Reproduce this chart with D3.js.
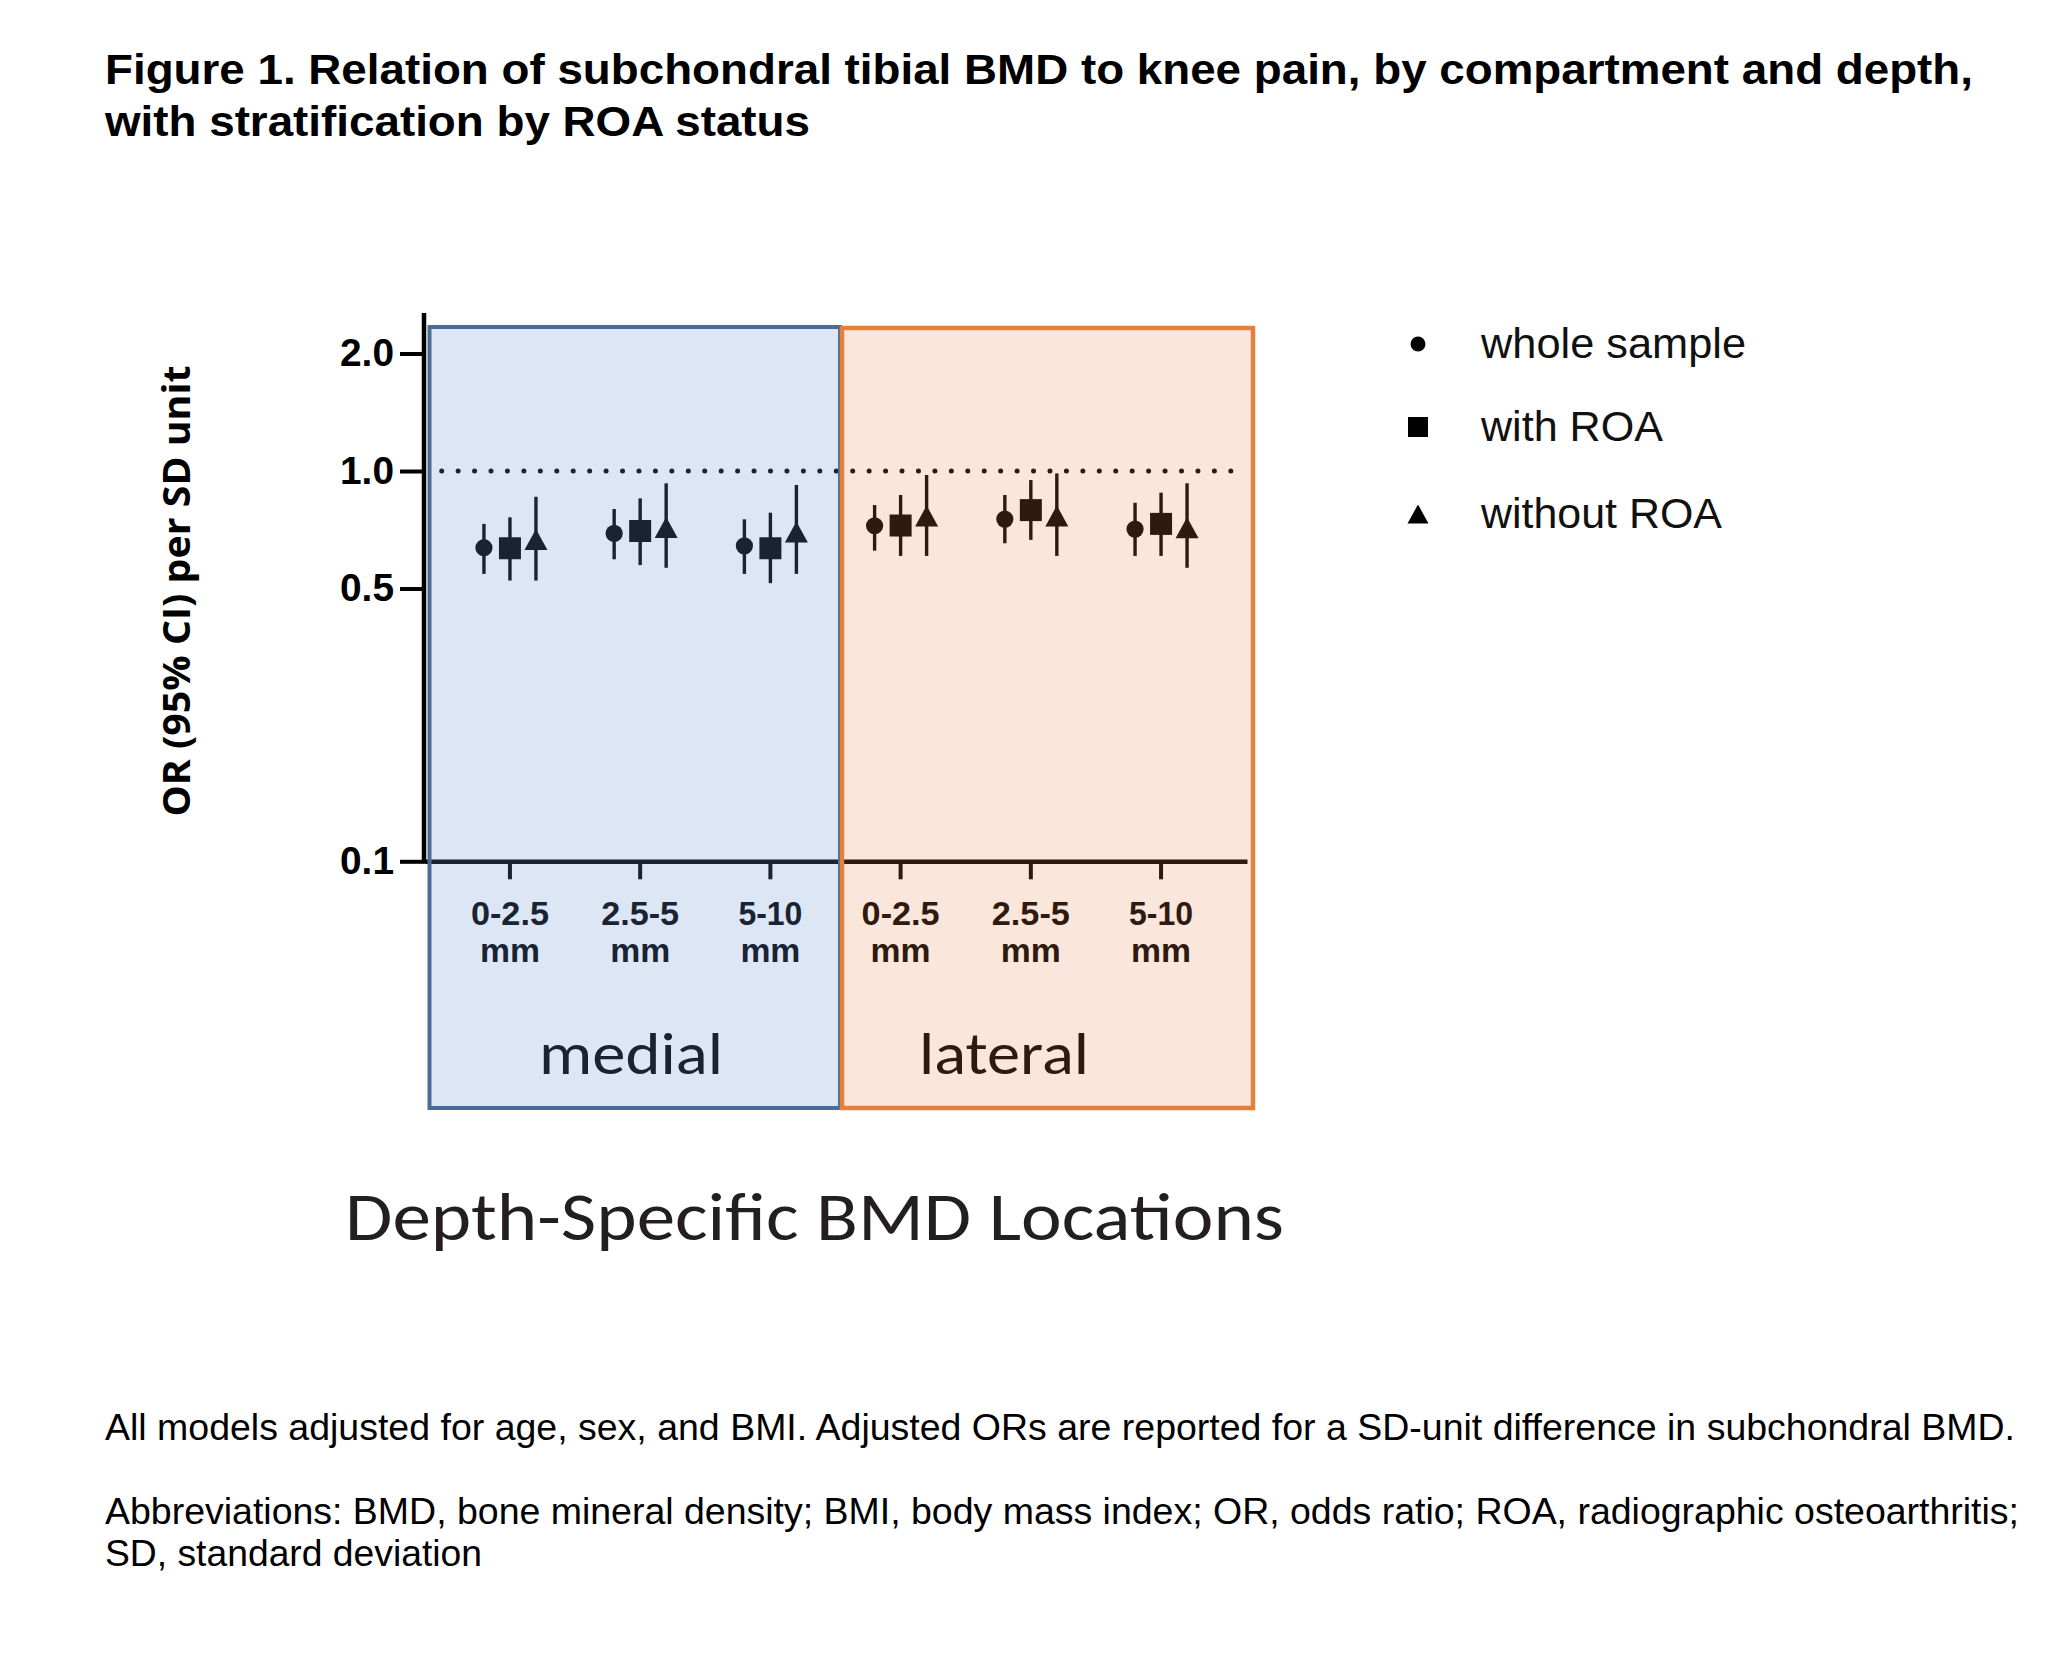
<!DOCTYPE html>
<html>
<head>
<meta charset="utf-8">
<script src="https://cdn.jsdelivr.net/npm/d3@7"></script>
<style>
  html, body { margin: 0; padding: 0; background: #ffffff; }
  svg { display: block; }
</style>
</head>
<body>
<script>
// ---------------- data ----------------
const categoryKeys = ["M1", "M2", "M3", "L1", "L2", "L3"];
const compartments = ["medial", "medial", "medial", "lateral", "lateral", "lateral"];
const depthLabels = ["0-2.5", "2.5-5", "5-10", "0-2.5", "2.5-5", "5-10"];
const unitLabel = "mm";
const yTickValues = [0.1, 0.5, 1.0, 2.0];
const seriesNames = ["whole sample", "with ROA", "without ROA"];
const seriesShapes = ["circle", "square", "triangle"];

const wholeOR = [0.636, 0.692, 0.643, 0.724, 0.753, 0.710];
const wholeLo = [0.545, 0.594, 0.545, 0.625, 0.653, 0.606];
const wholeHi = [0.732, 0.799, 0.752, 0.818, 0.868, 0.829];

const roaOR = [0.634, 0.702, 0.634, 0.725, 0.794, 0.732];
const roaLo = [0.524, 0.574, 0.516, 0.606, 0.666, 0.606];
const roaHi = [0.761, 0.851, 0.782, 0.868, 0.948, 0.880];

const noRoaOR = [0.668, 0.717, 0.698, 0.767, 0.767, 0.715];
const noRoaLo = [0.524, 0.565, 0.545, 0.606, 0.606, 0.565];
const noRoaHi = [0.859, 0.930, 0.921, 0.977, 0.986, 0.930];

const referenceOR = 1.0;

// ---------------- layout ----------------
const W = 2058, H = 1671;
const svg = d3.select("body").append("svg").attr("width", W).attr("height", H);

const y = d3.scaleLog().domain([0.1, 2.5]).range([861.3, 315.7]);
const x = d3.scaleBand().domain(categoryKeys).range([424, 1247]).paddingInner(0).paddingOuter(0.16);
const offsets = [-26, 0, 26];

const series = [
  { name: seriesNames[0], shape: seriesShapes[0], or: wholeOR, lo: wholeLo, hi: wholeHi },
  { name: seriesNames[1], shape: seriesShapes[1], or: roaOR, lo: roaLo, hi: roaHi },
  { name: seriesNames[2], shape: seriesShapes[2], or: noRoaOR, lo: noRoaLo, hi: noRoaHi }
];

function shapePath(shape) {
  if (shape === "circle") return d3.symbol(d3.symbolCircle, Math.PI * 8.6 * 8.6)();
  if (shape === "square") return "M-11,-11H11V11H-11Z";
  return "M0,-10.5L11.5,10.5L-11.5,10.5Z";
}

const ink = "#111111";

// ---------------- title ----------------
svg.append("text").attr("x", 105).attr("y", 84)
  .attr("font-family", "Liberation Sans, Arial, sans-serif").attr("font-weight", "bold")
  .attr("font-size", 43).attr("fill", "#000")
  .attr("textLength", 1868).attr("lengthAdjust", "spacingAndGlyphs")
  .text("Figure 1. Relation of subchondral tibial BMD to knee pain, by compartment and depth,");
svg.append("text").attr("x", 105).attr("y", 136)
  .attr("font-family", "Liberation Sans, Arial, sans-serif").attr("font-weight", "bold")
  .attr("font-size", 43).attr("fill", "#000")
  .attr("textLength", 705).attr("lengthAdjust", "spacingAndGlyphs")
  .text("with stratification by ROA status");

// ---------------- plot ----------------
const plot = svg.append("g");

// y axis
const yAxis = d3.axisLeft(y).tickValues(yTickValues).tickFormat(d3.format(".1f"))
  .tickSize(24).tickSizeOuter(0).tickPadding(6);
const yg = plot.append("g").attr("transform", "translate(424,0)").call(yAxis);
yg.select(".domain").remove();
yg.selectAll(".tick line").attr("stroke", "#000").attr("stroke-width", 4);
yg.selectAll(".tick text")
  .attr("font-family", "Liberation Sans, Arial, sans-serif").attr("font-weight", "bold")
  .attr("font-size", 38).attr("fill", "#000")
  .attr("textLength", 54).attr("lengthAdjust", "spacingAndGlyphs");
plot.append("line").attr("x1", 424).attr("x2", 424).attr("y1", 313).attr("y2", y(0.1) + 2)
  .attr("stroke", "#000").attr("stroke-width", 4.5);

// x axis
const xAxis = d3.axisBottom(x).tickSize(18).tickSizeOuter(0).tickFormat(() => "");
const xg = plot.append("g").attr("transform", `translate(0,${y(0.1)})`).call(xAxis);
xg.select(".domain").attr("stroke", "#000").attr("stroke-width", 4.5);
xg.selectAll(".tick line").attr("stroke", "#000").attr("stroke-width", 4);

// x tick labels (two lines)
const lab = plot.append("g");
categoryKeys.forEach((k, i) => {
  const cx = x(k) + x.bandwidth() / 2;
  const w1 = depthLabels[i] === "5-10" ? 64 : 78;
  lab.append("text").attr("x", cx).attr("y", 925).attr("text-anchor", "middle")
    .attr("font-family", "Liberation Sans Narrow, Liberation Sans, Arial, sans-serif")
    .attr("font-weight", "bold").attr("font-size", 34).attr("fill", "#000")
    .attr("textLength", w1).attr("lengthAdjust", "spacingAndGlyphs")
    .text(depthLabels[i]);
  lab.append("text").attr("x", cx).attr("y", 962).attr("text-anchor", "middle")
    .attr("font-family", "Liberation Sans Narrow, Liberation Sans, Arial, sans-serif")
    .attr("font-weight", "bold").attr("font-size", 34).attr("fill", "#000")
    .attr("textLength", 60).attr("lengthAdjust", "spacingAndGlyphs")
    .text(unitLabel);
});

// compartment labels
plot.append("text").attr("x", 631).attr("y", 1074).attr("text-anchor", "middle")
  .attr("font-family", "Carlito, Lato, sans-serif").attr("font-size", 60).attr("fill", "#000")
  .attr("textLength", 184).attr("lengthAdjust", "spacingAndGlyphs").text("medial");
plot.append("text").attr("x", 1004).attr("y", 1074).attr("text-anchor", "middle")
  .attr("font-family", "Carlito, Lato, sans-serif").attr("font-size", 60).attr("fill", "#000")
  .attr("textLength", 170).attr("lengthAdjust", "spacingAndGlyphs").text("lateral");

// reference line at OR = 1
plot.append("line").attr("x1", 441.7).attr("x2", 1232).attr("y1", y(referenceOR)).attr("y2", y(referenceOR))
  .attr("stroke", "#000").attr("stroke-width", 5).attr("stroke-linecap", "round")
  .attr("stroke-dasharray", "0,16.44");

// data marks
series.forEach((s, si) => {
  const g = plot.append("g");
  categoryKeys.forEach((k, i) => {
    const cx = x(k) + x.bandwidth() / 2 + offsets[si];
    g.append("line").attr("x1", cx).attr("x2", cx).attr("y1", y(s.lo[i])).attr("y2", y(s.hi[i]))
      .attr("stroke", "#000").attr("stroke-width", 3.4);
    g.append("path").attr("d", shapePath(s.shape))
      .attr("transform", `translate(${cx},${y(s.or[i])})`).attr("fill", "#000");
  });
});

// tinted compartment boxes (overlay)
plot.append("rect").attr("x", 429.5).attr("y", 327).attr("width", 410.5).attr("height", 781)
  .attr("fill", "rgb(111,149,213)").attr("fill-opacity", 0.235)
  .attr("stroke", "#4a6d98").attr("stroke-width", 4);
plot.append("rect").attr("x", 842).attr("y", 328).attr("width", 411).attr("height", 780)
  .attr("fill", "rgb(232,130,68)").attr("fill-opacity", 0.2)
  .attr("stroke", "#e3803c").attr("stroke-width", 4.5);

// axis title
svg.append("text").attr("transform", "translate(175,591) rotate(-90)")
  .attr("text-anchor", "middle").attr("dominant-baseline", "central")
  .attr("font-family", "Open Sans, sans-serif").attr("font-weight", "bold")
  .attr("font-size", 37).attr("fill", "#000")
  .attr("textLength", 451).attr("lengthAdjust", "spacingAndGlyphs")
  .text("OR (95% CI) per SD unit");

svg.append("text").attr("x", 345).attr("y", 1240)
  .attr("font-family", "Carlito, Lato, sans-serif").attr("font-size", 68).attr("fill", "#231f20")
  .attr("textLength", 939).attr("lengthAdjust", "spacingAndGlyphs")
  .text("Depth-Specific BMD Locations");

// legend
const legY = [344, 427, 514];
const legW = [265, 182, 241];
series.forEach((s, si) => {
  const g = svg.append("g");
  let d;
  if (s.shape === "circle") d = d3.symbol(d3.symbolCircle, Math.PI * 7.5 * 7.5)();
  else if (s.shape === "square") d = "M-10,-10H10V10H-10Z";
  else d = "M0,-9.5L10.5,9.5L-10.5,9.5Z";
  g.append("path").attr("d", d).attr("transform", `translate(1418,${legY[si]})`).attr("fill", "#000");
  g.append("text").attr("x", 1481).attr("y", legY[si] + 14)
    .attr("font-family", "Liberation Sans, Arial, sans-serif").attr("font-size", 43).attr("fill", ink)
    .attr("textLength", legW[si]).attr("lengthAdjust", "spacingAndGlyphs")
    .text(s.name);
});

// footnotes
const notes = [
  { t: "All models adjusted for age, sex, and BMI. Adjusted ORs are reported for a SD-unit difference in subchondral BMD.", y: 1440, w: 1910 },
  { t: "Abbreviations: BMD, bone mineral density; BMI, body mass index; OR, odds ratio; ROA, radiographic osteoarthritis;", y: 1524, w: 1914 },
  { t: "SD, standard deviation", y: 1566, w: 377 }
];
notes.forEach(n => {
  svg.append("text").attr("x", 105).attr("y", n.y)
    .attr("font-family", "Liberation Sans, Arial, sans-serif").attr("font-size", 36).attr("fill", "#000")
    .attr("textLength", n.w).attr("lengthAdjust", "spacingAndGlyphs").text(n.t);
});
</script>
</body>
</html>
